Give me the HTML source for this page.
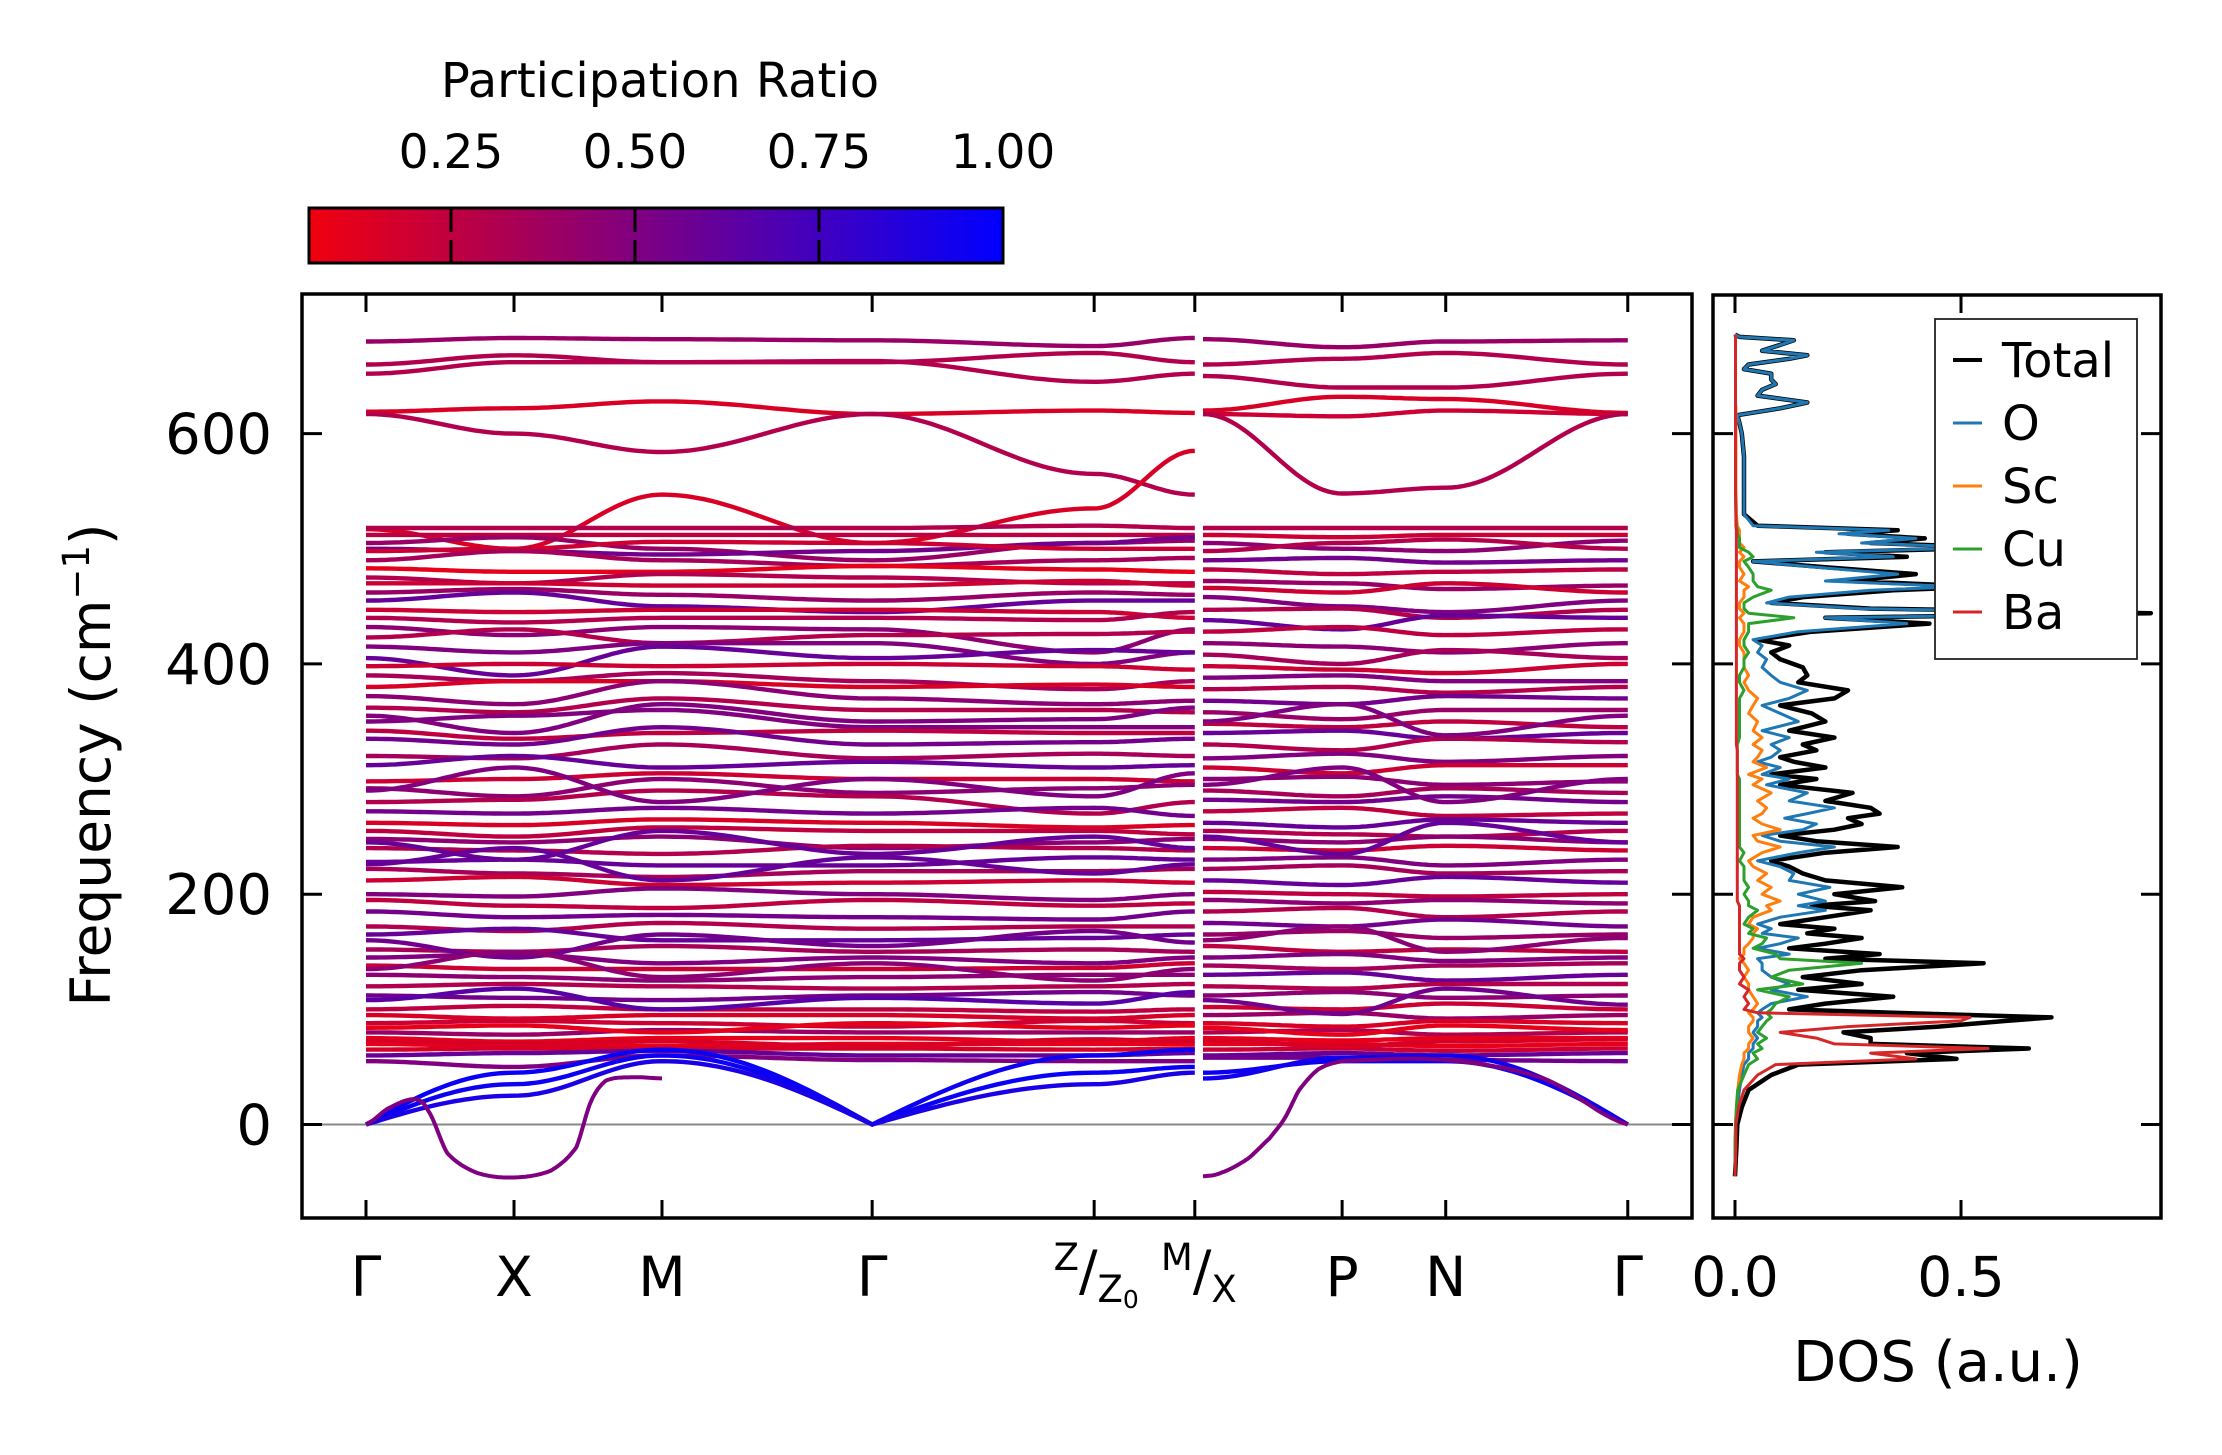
<!DOCTYPE html>
<html><head><meta charset="utf-8"><style>
html,body{margin:0;padding:0;background:#fff;}
svg{display:block;font-family:"DejaVu Sans","Liberation Sans",sans-serif;}
</style></head><body>
<svg id="fig" xmlns="http://www.w3.org/2000/svg" width="2222" height="1455" viewBox="0 0 2222 1455">
<defs>
<linearGradient id="cbg" x1="0" x2="1" y1="0" y2="0">
<stop offset="0" stop-color="rgb(241,0,14)"/><stop offset="1" stop-color="rgb(0,0,255)"/>
</linearGradient>
<clipPath id="clipMain"><rect x="302" y="294" width="1390" height="924"/></clipPath>
<clipPath id="clipDos"><rect x="1713" y="294" width="448" height="924"/></clipPath>
</defs>
<rect x="0" y="0" width="2222" height="1455" fill="#fff"/>
<text x="660" y="97" font-size="48" text-anchor="middle">Participation Ratio</text>
<rect x="309" y="208" width="694" height="55" fill="url(#cbg)" stroke="#000" stroke-width="3"/>
<g id="cbTicks"></g>
<g id="mainG"></g>
<g id="dosG"></g>
<text transform="translate(110,765) rotate(-90)" font-size="55" text-anchor="middle">Frequency (cm<tspan font-size="37" dy="-21">−1</tspan><tspan dy="21">)</tspan></text>
<text x="1938" y="1381" font-size="56" text-anchor="middle">DOS (a.u.)</text>
</svg>
<script>
// ---------- data ----------
const cbTickValues = [0.25, 0.5, 0.75, 1.0];
const cbTickLabels = ["0.25", "0.50", "0.75", "1.00"];
const yTickValues = [0, 200, 400, 600];
const yTickLabels = ["0", "200", "400", "600"];
const kDist1 = [0, 1, 2, 3.42, 4.92, 5.6];
const kDist2 = [0, 0.94, 1.64, 2.87];
const kLabels2 = ["P", "N", "Γ"];
// panel 1 bands: values at Γ, X, M, Γ, Z, Z0
const bands1 = [
[680,683,682,681,676,683],[660,668,662,662,670,662],[652,662,662,663,645,652],
[619,622,628,617,620,618],[617,600,584,617,565,547],[517,500,547,505,535,585],
[518,518,518,518,520,518],[512,512,512,512,512,512],[505,510,500,490,505,507],
[500,498,495,498,505,510],[498,500,506,505,500,500],[490,498,490,485,490,492],
[483,480,480,485,482,480],[475,470,478,475,470,470],[470,470,468,468,472,468],
[462,465,460,455,462,460],[455,462,450,445,455,455],[447,445,447,447,445,440],
[440,436,440,440,438,445],[432,425,432,430,410,430],[423,430,418,425,426,428],
[415,410,418,418,400,410],[405,390,415,405,412,410],[398,400,398,400,398,395],
[390,385,392,385,378,385],[380,385,385,380,382,380],[372,365,385,370,365,368],
[362,358,370,360,360,358],[350,355,360,345,345,345],[342,335,340,342,340,340],
[335,330,345,330,332,335],[320,318,330,318,322,320],[312,320,310,315,310,312],
[298,300,305,300,300,298],[292,285,300,288,292,295],[280,282,290,285,270,280],
[272,270,275,270,275,268],[262,260,265,262,258,260],[255,250,258,255,255,252],
[248,245,250,240,245,248],[240,238,235,242,240,238],[228,230,225,225,232,230],
[222,218,215,220,220,222],[212,215,208,210,212,210],[200,198,205,200,195,200],
[195,190,188,195,190,192],[185,180,182,180,178,185],[172,168,175,170,172,172],
[165,170,160,160,162,165],[152,150,155,150,152,150],[145,148,140,145,140,145],
[138,135,135,135,136,140],[130,128,125,128,130,130],[120,122,120,118,120,122],
[112,110,108,112,115,112],[100,103,100,100,98,100],[95,92,95,95,92,95],
[88,90,88,85,90,88],[80,78,82,80,80,80],[75,72,75,75,72,75],
[70,68,68,70,70,70],[65,66,66,66,65,66],[60,62,64,60,60,62],[55,50,60,56,55,55],
[290,310,280,300,285,305],[245,230,255,235,250,240],[160,145,165,155,168,158],
[135,150,128,140,125,135],[108,118,100,110,105,115],[84,86,80,88,84,86],
[73,70,72,68,74,72],[226,240,212,232,218,226],[355,340,365,350,352,362],
[0,45,65,0,45,50],[0,35,60,0,60,65],[0,25,55,0,35,45]
];
const pr1 = [0.4,0.3,0.3,0.15,0.3,0.15,0.3,0.25,0.4,0.55,0.2,0.35,0.1,0.3,0.2,0.4,0.6,0.2,0.3,0.45,0.3,0.5,0.6,0.2,0.35,0.15,0.45,0.3,0.5,0.25,0.55,0.35,0.6,0.2,0.45,0.3,0.55,0.15,0.25,0.45,0.3,0.6,0.35,0.2,0.5,0.25,0.55,0.3,0.6,0.35,0.5,0.2,0.45,0.3,0.55,0.25,0.15,0.2,0.4,0.1,0.1,0.15,0.6,0.5,0.5,0.6,0.55,0.45,0.65,0.1,0.15,0.6,0.5,0.97,0.95,0.9];
// panel 2 bands: values at M/X, P, N, Γ
const bands2 = [
[682,675,680,681],[660,665,670,660],[650,640,640,652],[620,632,630,618],
[617,615,620,617],[617,548,553,617],
[518,518,518,518],[512,510,512,512],[505,500,498,507],[498,505,508,500],
[490,492,488,490],[482,478,480,482],[472,470,465,468],[466,462,470,462],
[458,450,445,455],[447,448,440,447],[438,430,442,440],[428,432,425,430],
[418,415,410,418],[408,400,412,405],[398,395,392,400],[388,390,385,385],
[378,380,375,380],[368,365,372,370],[358,352,360,360],[348,345,350,345],
[340,342,335,340],[330,325,335,332],[318,322,315,320],[310,305,312,312],
[300,302,295,298],[290,285,292,288],[282,280,285,280],[272,275,268,270],
[262,258,265,262],[255,252,250,255],[248,245,250,245],[240,238,242,238],
[230,232,225,230],[222,225,218,220],[212,208,215,210],[202,200,198,200],
[195,192,195,192],[185,188,180,185],[175,172,178,172],[165,168,162,165],
[155,150,152,150],[145,148,142,145],[138,135,138,140],[130,132,125,130],
[120,118,122,122],[112,115,110,112],[102,100,105,100],[95,97,92,95],
[88,85,90,88],[80,82,78,80],[75,73,75,75],[70,70,68,70],[65,66,64,66],
[60,62,60,62],[58,58,56,55],
[295,310,280,300],[250,235,262,245],[160,172,150,162],[108,96,118,104],
[84,78,86,82],[73,68,72,74],[350,365,338,355],
[45,55,55,0],[40,58,60,0]
];
const pr2 = [0.4,0.3,0.3,0.15,0.2,0.3,0.3,0.2,0.45,0.3,0.55,0.25,0.4,0.2,0.5,0.3,0.6,0.25,0.45,0.35,0.2,0.5,0.3,0.55,0.4,0.25,0.6,0.3,0.5,0.2,0.45,0.35,0.55,0.25,0.6,0.3,0.45,0.2,0.5,0.35,0.6,0.25,0.45,0.3,0.55,0.4,0.25,0.5,0.35,0.6,0.3,0.45,0.2,0.4,0.15,0.3,0.1,0.1,0.2,0.6,0.55,0.5,0.6,0.45,0.55,0.1,0.15,0.5,0.95,0.93];
// soft (imaginary) mode
const softK1 = [0,0.15,0.33,0.42,0.55,0.75,1.0,1.25,1.42,1.52,1.62,1.8,2.0];
const softF1 = [0,14,22,12,-25,-42,-46,-40,-20,20,38,41,40];
const softK2 = [0,0.12,0.3,0.45,0.55,0.65,0.78,0.94,1.64,2.3,2.87];
const softF2 = [-45,-42,-30,-12,5,30,48,55,56,40,0];
// DOS
const dosFreq = [-45,-20,0,15,30,43,52,57,62,66,70,75,80,85,90,93,97,100,105,111,117,122,128,134,140,144,148,153,157,162,166,170,174,180,186,190,194,200,206,212,218,224,229,236,241,246,251,256,261,266,270,275,281,288,295,300,304,310,315,319,325,330,336,342,350,357,364,370,377,384,390,397,404,410,416,421,428,435,440,444,448,453,458,464,467,472,478,484,489,493,497,501,505,509,513,516,520,530,551,580,600,609,616,622,627,633,638,643,647,652,656,660,665,668,672,677,681,684,686];
const dosTotal = [0,0.003,0.005,0.015,0.03,0.08,0.14,0.49,0.38,0.65,0.30,0.30,0.24,0.45,0.60,0.70,0.35,0.12,0.20,0.35,0.14,0.28,0.15,0.28,0.55,0.20,0.32,0.12,0.20,0.28,0.16,0.22,0.10,0.20,0.30,0.17,0.31,0.22,0.37,0.20,0.15,0.12,0.08,0.20,0.36,0.18,0.10,0.22,0.28,0.25,0.32,0.30,0.20,0.26,0.10,0.18,0.08,0.20,0.13,0.10,0.18,0.15,0.22,0.12,0.20,0.17,0.10,0.22,0.25,0.14,0.16,0.15,0.10,0.08,0.12,0.05,0.17,0.43,0.20,0.92,0.30,0.08,0.15,0.35,0.55,0.25,0.40,0.20,0.04,0.38,0.20,0.59,0.30,0.42,0.25,0.36,0.05,0.02,0.02,0.02,0.015,0.01,0.005,0.10,0.16,0.05,0.06,0.09,0.08,0.08,0.02,0.03,0.12,0.16,0.06,0.10,0.13,0.01,0];
const dosO = [0,0,0.002,0.005,0.01,0.015,0.02,0.03,0.03,0.04,0.04,0.05,0.04,0.05,0.05,0.06,0.05,0.06,0.08,0.16,0.08,0.12,0.08,0.06,0.06,0.05,0.12,0.05,0.10,0.14,0.06,0.08,0.05,0.10,0.20,0.14,0.20,0.14,0.21,0.12,0.13,0.10,0.05,0.14,0.22,0.10,0.06,0.15,0.18,0.11,0.16,0.22,0.12,0.16,0.07,0.12,0.06,0.10,0.05,0.08,0.10,0.08,0.12,0.06,0.14,0.10,0.06,0.12,0.16,0.10,0.08,0.06,0.07,0.05,0.06,0.04,0.14,0.38,0.20,0.88,0.28,0.07,0.12,0.30,0.50,0.20,0.36,0.18,0.04,0.35,0.18,0.55,0.28,0.40,0.23,0.34,0.04,0.02,0.02,0.02,0.015,0.01,0.005,0.10,0.16,0.05,0.06,0.09,0.08,0.08,0.02,0.03,0.12,0.16,0.06,0.10,0.13,0.01,0];
const dosSc = [0,0,0.001,0.003,0.006,0.01,0.015,0.02,0.02,0.03,0.03,0.04,0.03,0.03,0.04,0.04,0.03,0.04,0.05,0.04,0.03,0.03,0.02,0.03,0.02,0.01,0.02,0.02,0.03,0.04,0.04,0.05,0.03,0.04,0.08,0.07,0.10,0.06,0.08,0.05,0.07,0.04,0.03,0.06,0.10,0.05,0.04,0.10,0.06,0.04,0.06,0.07,0.05,0.08,0.04,0.06,0.03,0.07,0.04,0.05,0.06,0.04,0.06,0.04,0.05,0.03,0.04,0.05,0.03,0.02,0.03,0.02,0.02,0.02,0.01,0.01,0.02,0.02,0.01,0.02,0.01,0.01,0.02,0.02,0.03,0.01,0.02,0.01,0.01,0.02,0.01,0.02,0.01,0.01,0.01,0.01,0.005,0.003,0.002,0.002,0.002,0.002,0.002,0.002,0.001,0.001,0.001,0.001,0.001,0.001,0.001,0.001,0.001,0.001,0.001,0.001,0.001,0.001,0];
const dosCu = [0,0,0.001,0.003,0.006,0.02,0.03,0.05,0.04,0.06,0.05,0.07,0.05,0.06,0.07,0.08,0.07,0.08,0.09,0.12,0.05,0.15,0.08,0.12,0.28,0.10,0.09,0.04,0.06,0.07,0.03,0.04,0.02,0.03,0.05,0.03,0.03,0.02,0.03,0.02,0.02,0.02,0.01,0.02,0.01,0.01,0.01,0.01,0.01,0.01,0.01,0.01,0.01,0.01,0.01,0.01,0.005,0.005,0.005,0.005,0.005,0.005,0.01,0.01,0.01,0.01,0.01,0.01,0.02,0.01,0.01,0.02,0.02,0.03,0.02,0.02,0.03,0.03,0.13,0.03,0.02,0.02,0.04,0.08,0.05,0.04,0.04,0.03,0.02,0.04,0.03,0.01,0.01,0.01,0.005,0.005,0.003,0.002,0.001,0.001,0.001,0.001,0.001,0.001,0.001,0.001,0.001,0.001,0.001,0.001,0.001,0.001,0.001,0.001,0.001,0.001,0.001,0.001,0];
const dosBa = [0,0.002,0.002,0.008,0.02,0.05,0.09,0.40,0.30,0.56,0.22,0.18,0.10,0.25,0.50,0.52,0.05,0.02,0.03,0.02,0.03,0.01,0.02,0.01,0.01,0.02,0.01,0.01,0.01,0.01,0.01,0.01,0.01,0.01,0.01,0.01,0.005,0.005,0.005,0.005,0.005,0.005,0.005,0.005,0.005,0.005,0.005,0.005,0.005,0.005,0.005,0.005,0.005,0.005,0.005,0.005,0.005,0.005,0.005,0.005,0.005,0.003,0.003,0.003,0.003,0.003,0.003,0.003,0.003,0.003,0.003,0.003,0.003,0.003,0.003,0.003,0.003,0.003,0.003,0.003,0.003,0.003,0.003,0.003,0.003,0.003,0.003,0.003,0.003,0.003,0.003,0.003,0.003,0.003,0.003,0.003,0.002,0.002,0.001,0.001,0.001,0.001,0.001,0.001,0.001,0.001,0.001,0.001,0.001,0.001,0.001,0.001,0.001,0.001,0.001,0.001,0.001,0.001,0];
const dosTickValues = [0.0, 0.5];
const dosTickLabels = ["0.0", "0.5"];
const legendLabels = ["Total", "O", "Sc", "Cu", "Ba"];

// ---------- helpers ----------
const NS = "http://www.w3.org/2000/svg";
function mk(tag, attrs, parent) {
  const e = document.createElementNS(NS, tag);
  for (const k in attrs) e.setAttribute(k, attrs[k]);
  parent.appendChild(e);
  return e;
}
const yS = f => 1124.5 - f * 1.1515;
const xS1 = k => 366 + k * 148;
const xS2 = k => 1203 + k * 148;
const xD = v => 1735 + v * 452;
const cbX = v => 267 + v * 736;
const prColor = p => `rgb(${Math.round(255*(1-p))},0,${Math.round(255*p)})`;

const svg = document.getElementById("fig");
const mainG = document.getElementById("mainG");
const dosG = document.getElementById("dosG");
const cbG = document.getElementById("cbTicks");

cbTickValues.forEach((v, i) => {
  const x = cbX(v);
  if (v < 0.99) {
    const t1 = mk("line", {x1:x, x2:x, y1:209, y2:232, stroke:"#000", "stroke-width":3}, cbG);
    
    
    const t2 = mk("line", {x1:x, x2:x, y1:240, y2:262, stroke:"#000", "stroke-width":3}, cbG);
    
    
  }
  const tx = mk("text", {x:x, y:168, "font-size":47, "text-anchor":"middle"}, cbG);
  tx.textContent = cbTickLabels[i];
  
  
});

const bandLayer = mk("g", {"clip-path":"url(#clipMain)"}, mainG);


function segInterp(a, b, t) {
  if (a === 0 && b !== 0) return b * Math.sin(Math.PI / 2 * t);
  if (b === 0 && a !== 0) return a * Math.sin(Math.PI / 2 * (1 - t));
  return a + (b - a) * (1 - Math.cos(Math.PI * t)) / 2;
}
function bandPath(vals, kd, xs) {
  let d = "";
  for (let s = 0; s < vals.length - 1; s++) {
    const N = 30;
    for (let i = (s === 0 ? 0 : 1); i <= N; i++) {
      const t = i / N;
      const k = kd[s] + (kd[s+1] - kd[s]) * t;
      const f = segInterp(vals[s], vals[s+1], t);
      d += (d ? "L" : "M") + xs(k).toFixed(1) + "," + yS(f).toFixed(1);
    }
  }
  return d;
}
function smoothPath(ks, fs, xs) {
  let d = "";
  for (let s = 0; s < ks.length - 1; s++) {
    const p0 = fs[Math.max(0, s-1)], p1 = fs[s], p2 = fs[s+1], p3 = fs[Math.min(fs.length-1, s+2)];
    const N = 16;
    for (let i = (s === 0 ? 0 : 1); i <= N; i++) {
      const t = i / N;
      const f = 0.5 * ((2*p1) + (-p0+p2)*t + (2*p0-5*p1+4*p2-p3)*t*t + (-p0+3*p1-3*p2+p3)*t*t*t);
      const k = ks[s] + (ks[s+1]-ks[s]) * t;
      d += (d ? "L" : "M") + xs(k).toFixed(1) + "," + yS(f).toFixed(1);
    }
  }
  return d;
}
const zl = mk("line", {x1:302, x2:1692, y1:yS(0), y2:yS(0), stroke:"#888", "stroke-width":2}, bandLayer);


bands1.forEach((b, i) => {
  const p = mk("path", {d:bandPath(b, kDist1, xS1), fill:"none", stroke:prColor(pr1[i]), "stroke-width":4.4}, bandLayer);
  
  
});
bands2.forEach((b, i) => {
  const p = mk("path", {d:bandPath(b, kDist2, xS2), fill:"none", stroke:prColor(pr2[i]), "stroke-width":4.4}, bandLayer);
  
  
});
const s1 = mk("path", {d:smoothPath(softK1, softF1, xS1), fill:"none", stroke:prColor(0.5), "stroke-width":4}, bandLayer);


const s2 = mk("path", {d:smoothPath(softK2, softF2, xS2), fill:"none", stroke:prColor(0.5), "stroke-width":4}, bandLayer);



const mf = mk("rect", {x:302, y:294, width:1390, height:924, fill:"none", stroke:"#000", "stroke-width":3.5}, mainG);


yTickValues.forEach((v, i) => {
  const y = yS(v);
  [[302, 322], [1692, 1672], [1713, 1733], [2161, 2141]].forEach(([a, b]) => {
    const t = mk("line", {x1:a, x2:b, y1:y, y2:y, stroke:"#000", "stroke-width":3}, svg);
    
    
  });
  const tx = mk("text", {x:272, y:y + 20, "font-size":56, "text-anchor":"end"}, svg);
  tx.textContent = yTickLabels[i];
  
  
});
const kTickX = kDist1.map(xS1).concat(kDist2.slice(1).map(xS2));
kTickX.forEach(x => {
  [[294, 312], [1218, 1200]].forEach(([a, b]) => {
    const t = mk("line", {x1:x, x2:x, y1:a, y2:b, stroke:"#000", "stroke-width":3}, svg);
    
    
  });
});
const simpleLabels = [["Γ", xS1(kDist1[0])], ["X", xS1(kDist1[1])], ["M", xS1(kDist1[2])], ["Γ", xS1(kDist1[3])]];
kLabels2.forEach((l, i) => simpleLabels.push([l, xS2(kDist2[i+1])]));
simpleLabels.forEach(([l, x]) => {
  const tx = mk("text", {x:x, y:1296, "font-size":55, "text-anchor":"middle"}, svg);
  tx.textContent = l;
  
  
});
function fracLabel(x, top, bot, sub) {
  const g = mk("text", {x:x, y:1290, "font-size":37, "text-anchor":"middle"}, svg);
  
  
  const a = mk("tspan", {dy:-20}, g); a.textContent = top;
  const b = mk("tspan", {dy:20, "font-size":55}, g); b.textContent = "/";
  const c = mk("tspan", {dy:12}, g); c.textContent = bot;
  if (sub) { const d = mk("tspan", {dy:6, "font-size":25}, g); d.textContent = sub; }
}
fracLabel(xS1(kDist1[4]) + 2, "Z", "Z", "0");
fracLabel(xS1(kDist1[5]) + 4, "M", "X", "");

const dosLayer = mk("g", {"clip-path":"url(#clipDos)"}, dosG);


const series = [[dosTotal, "#000", 4.5, "dos-total"], [dosO, "#1f77b4", 3, "dos-o"], [dosSc, "#ff7f0e", 3, "dos-sc"], [dosCu, "#2ca02c", 3, "dos-cu"], [dosBa, "#d62728", 3, "dos-ba"]];
series.forEach(([vals, col, w, nm]) => {
  const d = vals.map((v, i) => (i ? "L" : "M") + xD(v).toFixed(1) + "," + yS(dosFreq[i]).toFixed(1)).join("");
  const p = mk("path", {d:d, fill:"none", stroke:col, "stroke-width":w, "stroke-linejoin":"round"}, dosLayer);
  
  
});
const df = mk("rect", {x:1713, y:295, width:448, height:923, fill:"none", stroke:"#000", "stroke-width":3.5}, dosG);


dosTickValues.forEach((v, i) => {
  const x = xD(v);
  [[295, 313], [1218, 1200]].forEach(([a, b]) => {
    const t = mk("line", {x1:x, x2:x, y1:a, y2:b, stroke:"#000", "stroke-width":3}, dosG);
    
    
  });
  const tx = mk("text", {x:x, y:1296, "font-size":55, "text-anchor":"middle"}, dosG);
  tx.textContent = dosTickLabels[i];
  
  
});
const lg = mk("g", {}, dosG);


mk("rect", {x:1935, y:319, width:202, height:340, fill:"#fff", stroke:"#222", "stroke-width":1.8}, lg);
series.forEach(([vals, col], i) => {
  const y = 360 + i * 63;
  const ln = mk("line", {x1:1953, x2:1982, y1:y, y2:y, stroke:col, "stroke-width":i === 0 ? 4 : 3}, lg);
  
  
  const tx = mk("text", {x:2002, y:y + 17, "font-size":48}, lg);
  tx.textContent = legendLabels[i];
  
  
});
</script>
</body></html>
